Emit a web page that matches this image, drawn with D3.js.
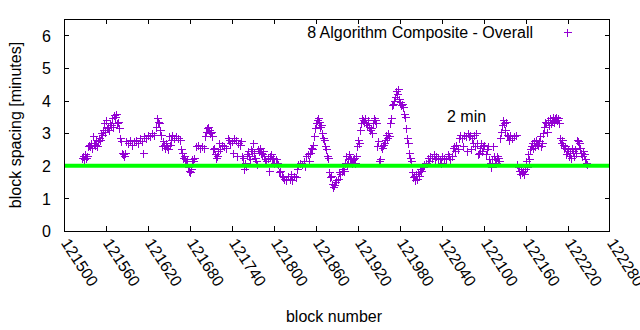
<!DOCTYPE html>
<html><head><meta charset="utf-8">
<script src="https://cdn.jsdelivr.net/npm/d3@7"></script>
<style>
html,body{margin:0;padding:0;background:#fff;}
svg{display:block;font-family:"Liberation Sans",Arial,sans-serif;}
</style></head>
<body><svg id="c" width="640" height="330"></svg>
<script>
const xTicks = [121500,121560,121620,121680,121740,121800,121860,121920,121980,122040,122100,122160,122220,122280];
const yTicks = [0,1,2,3,4,5,6];
const seriesName = "8 Algorithm Composite - Overall";
const targetValue = 2;
const targetLabel = "2 min";
const blocks = [
121526,121527,121529,121530,121531,121533,121534,121536,121537,121539,121540,121541,121543,121544,121546,121547,121549,121550,121551,121553,
121554,121556,121557,121559,121560,121561,121563,121564,121566,121567,121569,121570,121571,121573,121574,121576,121577,121579,121580,121581,
121583,121584,121586,121587,121589,121591,121594,121597,121600,121603,121606,121609,121611,121613,121614,121617,121620,121623,121626,121629,
121631,121633,121634,121636,121637,121639,121640,121641,121643,121644,121646,121647,121649,121650,121651,121653,121654,121657,121660,121663,
121666,121667,121669,121670,121671,121673,121674,121676,121677,121679,121680,121681,121683,121684,121686,121689,121691,121694,121697,121700,
121701,121703,121704,121706,121707,121709,121710,121711,121713,121714,121716,121717,121719,121720,121721,121723,121726,121729,121731,121734,
121736,121737,121740,121741,121743,121746,121747,121749,121751,121753,121754,121756,121757,121759,121760,121761,121763,121764,121766,121767,
121769,121770,121771,121773,121774,121776,121777,121779,121780,121781,121783,121784,121786,121787,121789,121791,121793,121794,121796,121797,
121799,121800,121803,121804,121806,121807,121809,121811,121813,121814,121817,121820,121823,121824,121826,121829,121831,121833,121834,121837,
121840,121843,121844,121846,121849,121850,121851,121853,121854,121856,121857,121859,121860,121861,121863,121864,121866,121867,121869,121870,
121871,121873,121874,121876,121877,121879,121880,121881,121883,121884,121886,121887,121889,121891,121893,121894,121897,121899,121900,121901,
121903,121904,121906,121907,121909,121910,121911,121913,121914,121916,121917,121919,121920,121921,121923,121924,121926,121927,121929,121930,
121931,121933,121934,121936,121937,121939,121940,121941,121943,121944,121946,121947,121949,121950,121951,121953,121954,121956,121957,121959,
121960,121961,121963,121964,121966,121967,121969,121970,121971,121973,121974,121976,121977,121979,121980,121981,121983,121984,121986,121987,
121989,121990,121991,121993,121994,121996,121997,121999,122000,122001,122003,122004,122006,122007,122009,122010,122011,122013,122014,122017,
122020,122021,122023,122026,122029,122030,122031,122034,122037,122039,122040,122043,122046,122049,122050,122051,122054,122056,122057,122059,
122060,122063,122064,122066,122069,122070,122071,122074,122076,122077,122079,122080,122081,122083,122084,122086,122087,122089,122090,122091,
122093,122094,122096,122097,122099,122100,122103,122104,122106,122107,122109,122110,122111,122113,122114,122116,122117,122119,122120,122121,
122123,122124,122126,122127,122129,122130,122131,122133,122134,122136,122137,122140,122143,122146,122147,122149,122150,122151,122153,122154,
122156,122157,122159,122160,122161,122163,122164,122166,122167,122169,122170,122171,122173,122174,122176,122177,122179,122180,122181,122183,
122184,122186,122187,122189,122190,122191,122193,122194,122196,122197,122199,122200,122201,122203,122204,122206,122207,122209,122210,122211,
122213,122214,122216,122217,122219,122220,122221,122223,122224,122226,122227,122229,122230,122231,122233,122234,122236,122237,122239,122240,
122241,122243,122244,122246,122247];
const spacing = [
2.25,2.3,2.2,2.35,2.25,2.3,2.6,2.65,2.6,2.7,2.55,2.9,2.7,2.65,2.8,2.6,2.75,2.85,2.8,3.0,
2.95,3.1,3.3,3.05,3.4,3.15,3.2,3.1,3.3,3.25,3.45,3.2,3.55,3.5,3.6,3.3,3.35,3.15,2.85,2.75,
2.4,2.35,2.3,2.4,2.75,2.7,2.8,2.65,2.75,2.8,2.7,2.85,2.75,2.4,2.9,2.85,2.95,2.9,3.0,2.95,
3.2,3.45,3.35,3.3,3.1,2.95,2.6,2.75,2.65,2.55,2.7,2.6,2.5,2.9,2.65,2.8,2.95,2.85,2.9,2.85,
2.8,2.5,2.4,2.25,2.3,2.2,2.15,2.2,1.95,1.85,1.8,1.9,2.2,2.15,2.25,2.6,2.65,2.55,2.6,2.55,
2.9,3.05,3.15,3.2,3.1,3.0,3.05,2.9,2.5,2.55,2.35,2.25,2.3,2.45,2.7,2.5,2.65,2.6,2.55,2.85,
2.8,2.7,2.75,2.4,2.85,2.8,2.3,2.7,2.65,2.75,2.3,2.25,1.9,2.1,2.0,2.35,2.45,2.3,2.2,2.5,
2.45,2.7,2.4,2.25,2.15,2.05,2.5,2.45,2.55,2.4,2.35,2.45,2.3,2.2,2.15,2.25,1.85,2.3,2.35,2.2,
2.25,2.1,2.2,2.1,2.05,1.8,1.85,1.7,1.65,1.6,1.55,1.7,1.6,1.75,1.55,1.7,1.65,1.9,2.05,2.1,
2.05,2.15,2.0,2.3,2.35,2.15,2.4,2.55,2.5,2.65,2.9,3.15,3.3,3.4,3.45,3.35,3.2,3.25,3.0,2.85,
2.8,2.6,2.5,2.3,2.25,1.8,1.65,1.7,1.45,1.35,1.4,1.5,1.55,1.6,1.8,1.75,1.85,1.9,1.85,2.1,
2.3,2.05,2.2,2.35,2.25,2.2,2.1,2.2,2.25,2.1,2.3,2.6,2.8,2.7,3.1,3.3,3.45,3.4,3.35,3.45,
3.3,3.25,3.4,3.2,3.1,3.15,3.0,3.3,3.45,3.4,3.3,2.6,2.75,2.15,2.2,2.6,2.55,2.65,2.7,2.8,
2.95,2.85,3.0,2.9,3.3,3.45,3.85,3.9,4.0,4.1,4.3,4.2,4.35,4.05,3.95,3.85,3.9,3.8,3.6,3.5,
3.15,2.85,2.7,2.4,2.25,2.15,1.8,1.65,1.7,1.55,1.75,1.6,1.8,1.7,1.9,1.85,2.0,1.95,2.05,2.1,
2.25,2.15,2.3,2.25,2.35,2.2,2.3,2.25,2.2,2.1,2.3,2.25,2.2,2.35,2.3,2.2,2.3,2.55,2.6,2.45,
2.65,2.5,2.85,2.95,2.85,2.6,2.95,2.9,2.45,3.0,2.9,2.95,2.5,2.85,2.7,2.95,2.6,3.0,2.7,2.35,
2.4,2.55,2.7,2.45,2.6,2.65,2.35,2.5,2.6,2.2,2.1,1.95,2.2,2.6,2.3,2.2,2.1,2.3,2.25,2.15,
2.85,3.05,3.25,3.4,3.3,3.1,3.35,2.95,2.9,2.8,2.95,2.85,2.9,2.95,2.05,1.95,1.85,1.75,1.9,1.8,
1.85,1.75,1.9,2.15,1.95,2.35,2.2,2.5,2.6,2.7,2.55,2.75,2.6,2.8,2.7,2.65,2.75,2.9,2.6,2.7,
3.0,3.2,3.35,3.3,3.05,3.4,3.25,3.45,3.3,3.4,3.5,3.35,3.45,3.5,3.4,3.45,3.3,2.85,2.7,2.8,
2.65,2.55,2.6,2.35,2.45,2.5,2.3,2.4,2.25,2.55,2.45,2.3,2.5,2.4,2.8,2.75,2.7,2.55,2.4,2.3,
2.45,2.35,2.2,2.1,2.05];

const svg = d3.select("#c");
const L = 64, R = 610, T = 19, B = 231;
const x = d3.scaleLinear().domain([121500,122280]).range([L,R]);
const y = d3.scaleLinear().domain([0,6.5]).range([B,T]);
const font = 16, tick = 5;

// ticks (inward, mirrored)
const gx = svg.append("g").attr("transform",`translate(0,${B})`)
  .call(d3.axisBottom(x).tickValues(xTicks).tickSize(-tick).tickFormat(d=>d));
const gxt = svg.append("g").attr("transform",`translate(0,${T})`)
  .call(d3.axisTop(x).tickValues(xTicks).tickSize(-tick).tickFormat(""));
const gy = svg.append("g").attr("transform",`translate(${L},0)`)
  .call(d3.axisLeft(y).tickValues(yTicks).tickSize(-tick).tickFormat(d=>d));
const gyr = svg.append("g").attr("transform",`translate(${R},0)`)
  .call(d3.axisRight(y).tickValues(yTicks).tickSize(-tick).tickFormat(""));
[gx,gxt,gy,gyr].forEach(g=>{
  g.select(".domain").remove();
  g.selectAll(".tick line").attr("stroke","#000").attr("shape-rendering","crispEdges");
  g.selectAll("text").attr("font-family",'"Liberation Sans",Arial,sans-serif').attr("font-size",font).attr("fill","#000");
});
gx.selectAll(".tick").filter(d=>d===122280).select("line").remove();
gxt.selectAll(".tick").filter(d=>d===122280).select("line").remove();
gx.selectAll(".tick text")
  .attr("text-anchor","start").attr("dy",null).attr("y",null)
  .attr("transform","translate(-4,12) rotate(57)");
gy.selectAll(".tick text").attr("x",-13).attr("dy","0.36em").attr("text-anchor","end");

// points
const pts = svg.append("g").attr("stroke","#9400d3").attr("stroke-width",1).attr("shape-rendering","crispEdges");
const cross = (px,py,s)=>`M${px-s},${py}H${px+s}M${px},${py-s}V${py+s}`;
pts.selectAll("path").data(blocks.map((b,i)=>[b,spacing[i]])).join("path")
  .attr("d",d=>cross(Math.round(x(d[0]))+0.5,Math.round(y(d[1]))+0.5,4));

// target line
svg.append("line").attr("x1",x(121500)+1).attr("x2",x(122280)-1)
  .attr("y1",y(targetValue)).attr("y2",y(targetValue))
  .attr("stroke","#00ff00").attr("stroke-width",4);

// border
svg.append("rect").attr("x",L+0.5).attr("y",T+0.5).attr("width",R-L-1).attr("height",B-T)
  .attr("fill","none").attr("stroke","#000").attr("shape-rendering","crispEdges");

// labels
svg.append("text").attr("x",447).attr("y",122).attr("font-size",font).attr("fill","#000").text(targetLabel);
svg.append("text").attr("x",533).attr("y",38).attr("font-size",font).attr("text-anchor","end").attr("fill","#000").text(seriesName);
svg.append("path").attr("d",cross(567.5,32.5,4)).attr("stroke","#9400d3").attr("shape-rendering","crispEdges");
svg.append("text").attr("x",334).attr("y",322).attr("font-size",font).attr("text-anchor","middle").attr("fill","#000").text("block number");
svg.append("text").attr("transform","translate(21,125) rotate(-90)").attr("font-size",font).attr("text-anchor","middle").attr("fill","#000").text("block spacing [minutes]");
</script></body></html>
